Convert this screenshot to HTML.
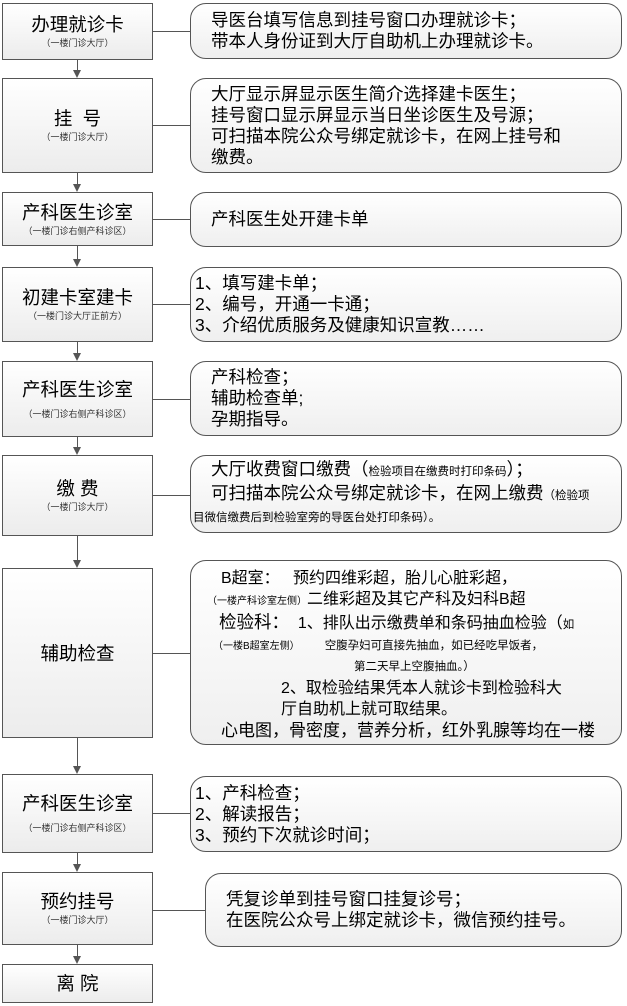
<!DOCTYPE html>
<html><head><meta charset="utf-8"><style>
*{margin:0;padding:0;box-sizing:border-box}
body{width:627px;height:1006px;background:#fff;position:relative;font-family:"Liberation Sans","Noto Sans CJK SC",sans-serif;color:#000;overflow:hidden}
.l{position:absolute;left:2px;width:151px;border:1px solid #555;background:linear-gradient(#fff,#ececec);display:flex;flex-direction:column;align-items:center;justify-content:center;text-align:center}
.l .t{font-size:18.5px;line-height:23px}
.l .s{font-size:9px;line-height:14px;color:#333}
.r{position:absolute;left:190px;width:432px;border:1px solid #555;border-radius:16px;background:linear-gradient(#fff,#efefef);font-size:17.5px;line-height:21px;padding-left:20px;display:flex;flex-direction:column;justify-content:center;white-space:nowrap;overflow:hidden}
.h{position:absolute;height:1px;background:#555}
.v{position:absolute;left:77px;width:1px;background:#555}
.a{position:absolute;left:73px;width:0;height:0;border-left:4.5px solid transparent;border-right:4.5px solid transparent;border-top:8px solid #555}
.sm{font-size:11.5px}
</style></head><body>

<div class="l" style="top:3px;height:57px"><div class="t">办理就诊卡</div><div class="s">（一楼门诊大厅）</div></div>
<div class="l" style="top:78px;height:95px"><div class="t">挂&nbsp; 号</div><div class="s">（一楼门诊大厅）</div></div>
<div class="l" style="top:192px;height:54px"><div class="t">产科医生诊室</div><div class="s">（一楼门诊右侧产科诊区）</div></div>
<div class="l" style="top:267px;height:75px"><div class="t">初建卡室建卡</div><div class="s">（一楼门诊大厅正前方）</div></div>
<div class="l" style="top:361px;height:76px"><div class="t">产科医生诊室</div><div class="s" style="margin-top:6px">（一楼门诊右侧产科诊区）</div></div>
<div class="l" style="top:455px;height:81px"><div class="t">缴 费</div><div class="s">（一楼门诊大厅）</div></div>
<div class="l" style="top:568px;height:170px"><div class="t">辅助检查</div></div>
<div class="l" style="top:774px;height:79px"><div class="t">产科医生诊室</div><div class="s" style="margin-top:6px">（一楼门诊右侧产科诊区）</div></div>
<div class="l" style="top:872px;height:73px"><div class="t">预约挂号</div><div class="s">（一楼门诊大厅）</div></div>
<div class="l" style="top:964px;height:39px"><div class="t">离 院</div></div>

<div class="v" style="top:60px;height:10px"></div><div class="a" style="top:70px"></div>
<div class="v" style="top:173px;height:11px"></div><div class="a" style="top:184px"></div>
<div class="v" style="top:246px;height:13px"></div><div class="a" style="top:259px"></div>
<div class="v" style="top:342px;height:11px"></div><div class="a" style="top:353px"></div>
<div class="v" style="top:437px;height:10px"></div><div class="a" style="top:447px"></div>
<div class="v" style="top:536px;height:24px"></div><div class="a" style="top:560px"></div>
<div class="v" style="top:738px;height:28px"></div><div class="a" style="top:766px"></div>
<div class="v" style="top:853px;height:11px"></div><div class="a" style="top:864px"></div>
<div class="v" style="top:945px;height:11px"></div><div class="a" style="top:956px"></div>

<div class="h" style="left:153px;width:37px;top:31px"></div>
<div class="h" style="left:153px;width:37px;top:125px"></div>
<div class="h" style="left:153px;width:37px;top:219px"></div>
<div class="h" style="left:153px;width:37px;top:304px"></div>
<div class="h" style="left:153px;width:37px;top:399px"></div>
<div class="h" style="left:153px;width:37px;top:495px"></div>
<div class="h" style="left:153px;width:37px;top:653px"></div>
<div class="h" style="left:153px;width:37px;top:813px"></div>
<div class="h" style="left:153px;width:52px;top:910px"></div>

<div class="r" style="top:3px;height:56px"><div>导医台填写信息到挂号窗口办理就诊卡；</div><div>带本人身份证到大厅自助机上办理就诊卡。</div></div>
<div class="r" style="top:78px;height:95px"><div>大厅显示屏显示医生简介选择建卡医生；</div><div>挂号窗口显示屏显示当日坐诊医生及号源；</div><div>可扫描本院公众号绑定就诊卡，在网上挂号和</div><div>缴费。</div></div>
<div class="r" style="top:192px;height:55px"><div>产科医生处开建卡单</div></div>
<div class="r" style="top:267px;height:75px;padding-left:4px"><div>1、填写建卡单；</div><div>2、编号，开通一卡通；</div><div>3、介绍优质服务及健康知识宣教……</div></div>
<div class="r" style="top:361px;height:75px"><div>产科检查；</div><div>辅助检查单;</div><div>孕期指导。</div></div>
<div class="r" style="top:455px;height:78px;padding-left:0"><div style="padding-left:20px">大厅收费窗口缴费（<span class="sm">检验项目在缴费时打印条码</span>）；</div><div style="padding-left:20px">可扫描本院公众号绑定就诊卡，在网上缴费<span class="sm">（检验项</span></div><div class="sm" style="line-height:22px;padding-left:2px">目微信缴费后到检验室旁的导医台处打印条码）。</div></div>
<div class="r" style="top:560px;height:185px;padding-left:0;font-size:16px;line-height:21px;display:block;padding-top:7px">
<div style="padding-left:30px">B超室：&nbsp;&nbsp; 预约四维彩超，胎儿心脏彩超，</div>
<div style="padding-left:16px"><span style="font-size:10px">（一楼产科诊室左侧）</span>二维彩超及其它产科及妇科B超</div>
<div style="padding-left:28px"><span style="font-size:17.5px">检验科：</span>&nbsp; 1、排队出示缴费单和条码抽血检验（<span class="sm">如</span></div>
<div style="padding-left:22px;font-size:10px">（一楼B超室左侧）&nbsp;&nbsp;&nbsp;&nbsp;&nbsp;&nbsp;&nbsp;&nbsp; <span class="sm">空腹孕妇可直接先抽血，如已经吃早饭者，</span></div>
<div style="padding-left:163px" class="sm">第二天早上空腹抽血。）</div>
<div style="padding-left:90px">2、取检验结果凭本人就诊卡到检验科大</div>
<div style="padding-left:90px">厅自助机上就可取结果。</div>
<div style="padding-left:30px;font-size:17px">心电图，骨密度，营养分析，红外乳腺等均在一楼</div>
</div>
<div class="r" style="top:776px;height:76px;padding-left:4px"><div>1、产科检查；</div><div>2、解读报告；</div><div>3、预约下次就诊时间；</div></div>
<div class="r" style="top:873px;left:205px;width:417px;height:74px"><div>凭复诊单到挂号窗口挂复诊号；</div><div>在医院公众号上绑定就诊卡，微信预约挂号。</div></div>

</body></html>
